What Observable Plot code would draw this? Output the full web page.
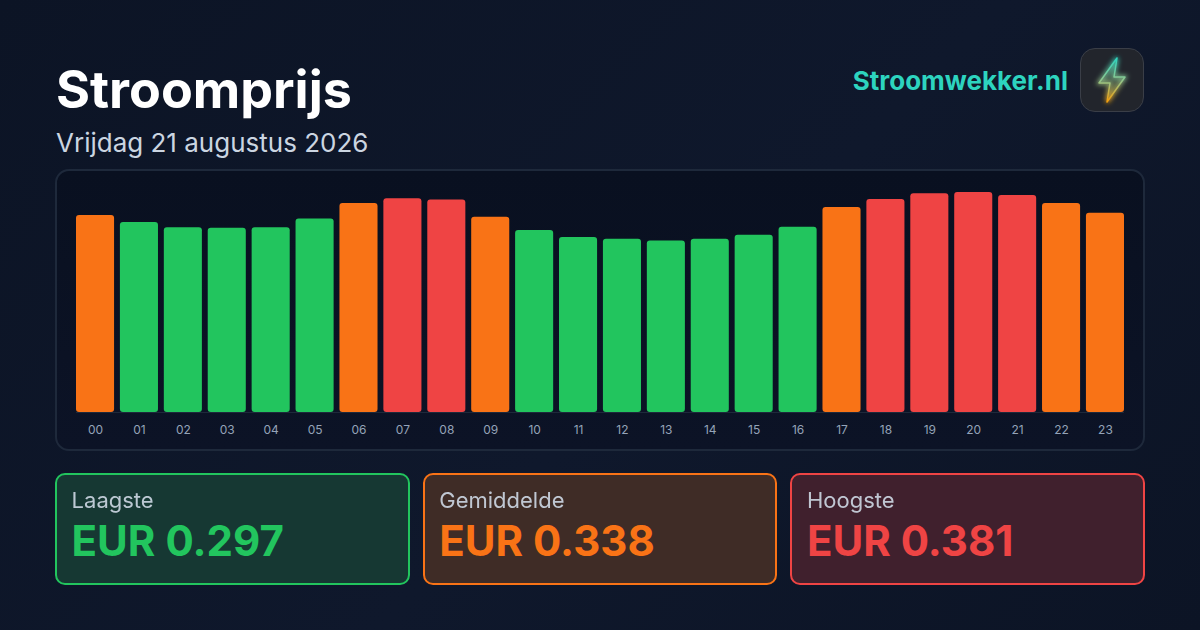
<!DOCTYPE html>
<html lang="nl">
<head>
<meta charset="utf-8">
<script src="https://cdn.jsdelivr.net/npm/d3@7"></script>
<script src="https://cdn.jsdelivr.net/npm/@observablehq/plot@0.6"></script>
<style>
html,body{margin:0;padding:0;width:1200px;height:630px;overflow:hidden;background:#0f172a;}
body{position:relative;font-family:Inter,sans-serif;background:linear-gradient(135deg,#0c1425 0%,#0f182c 55%,#0c1425 100%);}
.abs{position:absolute;white-space:nowrap;}
#title{left:56px;top:59px;font-size:52px;line-height:62px;font-weight:700;color:#fff;}
#subtitle{left:56px;top:127px;font-size:26px;line-height:32px;color:#cbd5e1;}
#brand{right:132px;top:64px;font-size:26px;line-height:34px;font-weight:700;color:#2dd4bf;}
#logo{left:1080px;top:48px;width:62px;height:62px;border-radius:15px;background:#22252c;border:1px solid #3a3e47;}
#panel{left:55px;top:169px;width:1086px;height:278px;border:2px solid #1e293b;border-radius:14px;background:linear-gradient(180deg,#091020,#0c1326);}
#chart{left:0;top:0;width:1200px;height:630px;}
#chart svg{display:block;background:transparent;}
.card{position:absolute;top:473px;height:108px;border:2px solid;border-radius:10px;}
.card .lab{position:absolute;left:14.6px;top:12px;font-size:22px;line-height:26px;color:#cbd5e1;opacity:.92;}
.card .val{position:absolute;left:14.6px;top:39px;font-size:42px;line-height:54px;font-weight:700;}
</style>
</head>
<body>
<div class="abs" id="panel"></div>
<div class="abs" id="chart"></div>
<div class="abs" id="title">Stroomprijs</div>
<div class="abs" id="subtitle">Vrijdag 21 augustus 2026</div>
<div class="abs" id="brand">Stroomwekker.nl</div>
<div class="abs" id="logo">
<svg width="62" height="62" viewBox="0 0 62 62" style="display:block">
<defs>
<linearGradient id="g" x1="0" y1="0" x2="0" y2="1"><stop offset="0" stop-color="#2dd4bf"/><stop offset=".5" stop-color="#8fc78f"/><stop offset="1" stop-color="#f59e0b"/></linearGradient>
<filter id="glow" x="-80%" y="-80%" width="260%" height="260%"><feGaussianBlur stdDeviation="2.5"/></filter>
</defs>
<path d="M36 9 L18 34 L29 34 L26 53 L44 28 L33 28 Z" fill="url(#g)" fill-opacity=".2" stroke="url(#g)" stroke-width="3" filter="url(#glow)"/>
<path d="M36 9 L18 34 L29 34 L26 53 L44 28 L33 28 Z" fill="url(#g)" fill-opacity=".12" stroke="url(#g)" stroke-width="1.5" stroke-linejoin="round"/>
</svg>
</div>
<div id="cards"></div>
<script>
const hours = ["00","01","02","03","04","05","06","07","08","09","10","11","12","13","14","15","16","17","18","19","20","21","22","23"];
const prices = [0.341,0.329,0.320,0.319,0.320,0.335,0.362,0.370,0.368,0.338,0.315,0.303,0.300,0.297,0.300,0.307,0.321,0.355,0.369,0.379,0.381,0.376,0.362,0.345];
const levels = ["mid","low","low","low","low","low","mid","high","high","mid","low","low","low","low","low","low","low","mid","high","high","high","high","mid","mid"];
const levelNames = ["low","mid","high"];
const levelColors = ["#22c55e","#f97316","#ef4444"];
const cardLabels = ["Laagste","Gemiddelde","Hoogste"];
const cardValues = ["EUR 0.297","EUR 0.338","EUR 0.381"];
const cardLeft = [55,422.67,790.33];
const cardWidth = [350.67,350.67,350.67];
const cardFill = ["#163833","#3f2c26","#40202d"];

const rows = hours.map((h,i)=>({hour:h,price:prices[i],level:levels[i]}));
const plot = Plot.plot({
  width:1200,height:630,
  marginLeft:76,marginRight:76,marginTop:192,marginBottom:218,
  style:{background:"transparent",fontFamily:"Inter,sans-serif"},
  x:{domain:hours,paddingInner:0.133,paddingOuter:0,round:false,label:null},
  y:{domain:[0,0.381],axis:null,label:null},
  color:{domain:levelNames,range:levelColors},
  marks:[
    Plot.barY(rows,{x:"hour",y:"price",fill:"level",rx:3}),
    Plot.ruleY([0],{stroke:"#1e293b",strokeWidth:1}),
    Plot.axisX({fontSize:12,tickSize:0,tickPadding:13,label:null,fill:"#94a3b8"})
  ]
});
document.getElementById("chart").appendChild(plot);

const cards=document.getElementById("cards");
cardLabels.forEach((l,i)=>{
  const c=document.createElement("div");
  c.className="card";
  c.style.left=cardLeft[i]+"px";
  c.style.width=cardWidth[i]+"px";
  c.style.borderColor=levelColors[i];
  c.style.background=cardFill[i];
  c.innerHTML=`<div class="lab">${l}</div><div class="val" style="color:${levelColors[i]}">${cardValues[i]}</div>`;
  cards.appendChild(c);
});
</script>
</body>
</html>
